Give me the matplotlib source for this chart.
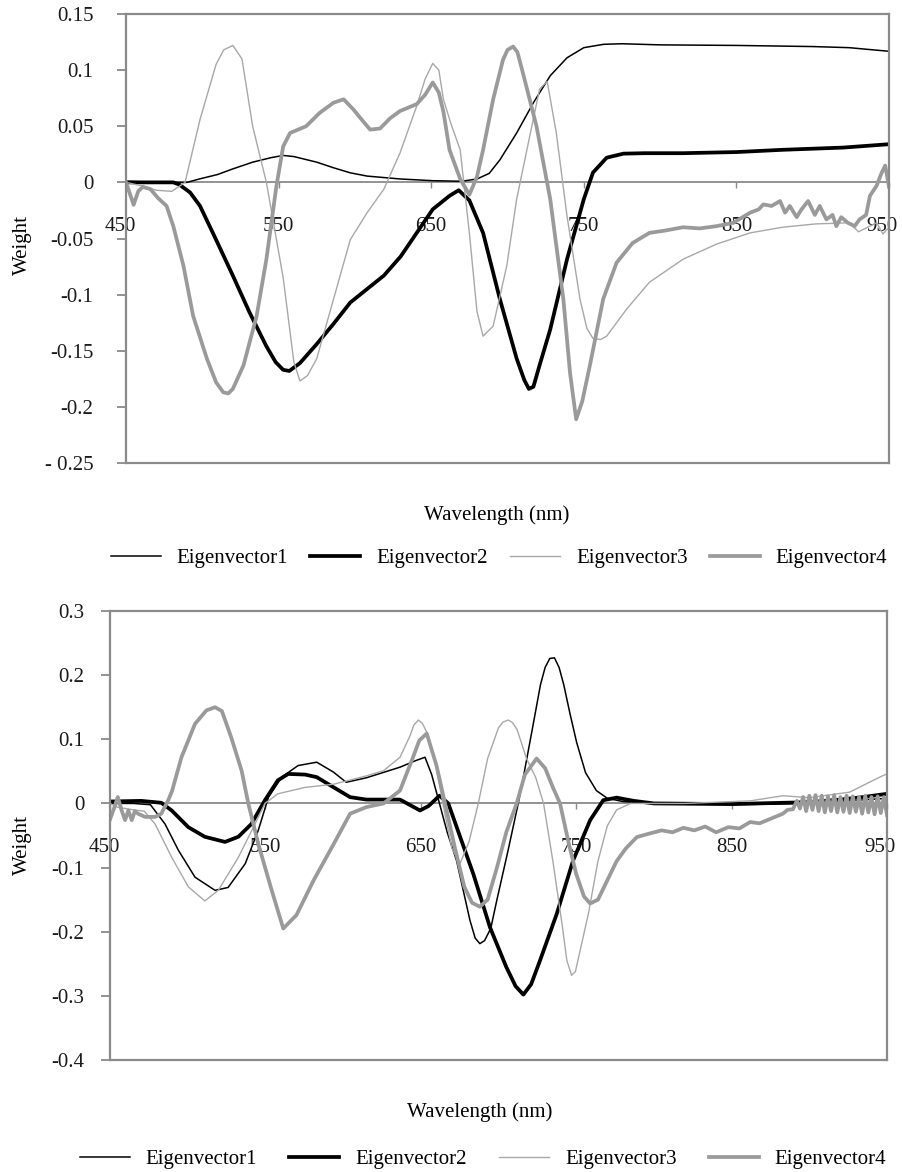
import matplotlib
matplotlib.use("Agg")
import matplotlib.pyplot as plt
from matplotlib.lines import Line2D
from matplotlib.transforms import ScaledTranslation

plt.rcParams['font.family'] = ['Liberation Serif', 'DejaVu Serif']
plt.rcParams['font.size'] = 15

series_names = ['Eigenvector1', 'Eigenvector2', 'Eigenvector3', 'Eigenvector4']
x_ticks = [450, 550, 650, 750, 850, 950]
x_tick_labels = ['450', '550', '650', '750', '850', '950']

top_y_ticks = [0.15, 0.1, 0.05, 0, -0.05, -0.1, -0.15, -0.2, -0.25]
top_y_labels = ['0.15', '0.1', '0.05', '0', '-0.05', '-0.1', '-0.15', '-0.2', '- 0.25']
bot_y_ticks = [0.3, 0.2, 0.1, 0, -0.1, -0.2, -0.3, -0.4]
bot_y_labels = ['0.3', '0.2', '0.1', '0', '-0.1', '-0.2', '-0.3', '-0.4']

# ---- upper panel ----
top_wl1 = [450, 470, 490, 498, 510, 520, 533, 545, 553, 560, 575, 586, 597, 608, 630, 651,
           670, 680, 688, 695, 706, 717, 728, 739, 750, 763, 775, 800, 850, 900, 924, 940, 950]
top_ev1 = [0.001, 0.0, 0.0, 0.003, 0.007, 0.012, 0.018, 0.022, 0.024, 0.023, 0.018, 0.013,
           0.0085, 0.0056, 0.003, 0.0015, 0.001, 0.003, 0.008, 0.020, 0.044, 0.071, 0.095,
           0.111, 0.120, 0.123, 0.1235, 0.1225, 0.122, 0.121, 0.120, 0.118, 0.1168]

top_wl2 = [450, 470, 481, 485, 492, 498.5, 509, 520, 531, 542, 548, 553, 557, 564, 575, 586,
           597, 608, 619, 630, 640.5, 651, 662, 668, 675, 684, 695, 706, 711, 714, 717, 721,
           728, 739, 750, 756, 765, 776, 790, 815, 850, 880, 920, 950]
top_ev2 = [0.0, 0.0, 0.0, -0.002, -0.009, -0.021, -0.051, -0.083, -0.116, -0.146, -0.160,
           -0.167, -0.168, -0.161, -0.144, -0.126, -0.107, -0.095, -0.083, -0.066, -0.045,
           -0.024, -0.012, -0.007, -0.016, -0.045, -0.104, -0.157, -0.176, -0.184, -0.182,
           -0.163, -0.131, -0.0685, -0.015, 0.0087, 0.022, 0.0256, 0.026, 0.026, 0.027, 0.029,
           0.031, 0.034]

top_wl3 = [450, 460, 470, 480, 488.7, 498.5, 509, 514, 520, 526, 533, 542, 553, 560, 564, 569,
           575, 586, 597, 608, 619, 629.5, 640.5, 646, 651, 655, 658, 663, 669, 675, 680, 684,
           690.6, 699.5, 706, 715, 721, 726, 732, 739, 747.5, 752, 756, 761, 765, 778, 793,
           815, 837, 859, 880, 902, 924, 930, 936, 942, 946, 950]
top_ev3 = [0.0, -0.003, -0.007, -0.008, 0.0, 0.056, 0.105, 0.118, 0.122, 0.110, 0.050, 0.0,
           -0.085, -0.160, -0.177, -0.172, -0.157, -0.104, -0.051, -0.027, -0.006, 0.026,
           0.068, 0.092, 0.106, 0.100, 0.074, 0.052, 0.029, -0.045, -0.115, -0.137, -0.128,
           -0.0745, -0.015, 0.044, 0.083, 0.090, 0.044, -0.030, -0.104, -0.130, -0.139,
           -0.140, -0.137, -0.113, -0.089, -0.0685, -0.055, -0.045, -0.040, -0.037, -0.036,
           -0.044, -0.040, -0.036, -0.046, -0.040]

top_wl4 = [450, 453, 455, 458, 461, 466, 471, 476.6, 481, 487.6, 494, 503, 509, 513.7, 517,
           520, 527, 535.6, 542, 548.6, 553, 557.5, 568, 577, 586, 592.6, 599, 605, 610, 616.5,
           623, 629.5, 640.5, 646, 651, 655, 658, 662, 669, 675, 680, 684, 690.6, 697, 700,
           703.7, 706.5, 710, 719, 728, 736.6, 741, 745, 749, 754, 762.7, 771.5, 782, 793, 803,
           815, 826, 837, 848, 859, 864.7, 867.6, 873, 878.6, 881.9, 885, 889.5, 892.7, 897,
           901.4, 904.6, 909, 913, 915.5, 918.7, 923, 927.5, 930.7, 935, 937.5, 941.9, 945.2,
           947.5, 950]
top_ev4 = [0.0, -0.012, -0.02, -0.008, -0.004, -0.006, -0.014, -0.021, -0.039, -0.074, -0.119,
           -0.157, -0.178, -0.187, -0.188, -0.184, -0.163, -0.119, -0.0685, -0.003, 0.032,
           0.044, 0.050, 0.062, 0.071, 0.074, 0.065, 0.055, 0.047, 0.048, 0.057, 0.0635,
           0.0697, 0.078, 0.089, 0.080, 0.063, 0.029, 0.003, -0.011, 0.005, 0.029, 0.074,
           0.109, 0.118, 0.121, 0.116, 0.098, 0.050, -0.015, -0.104, -0.170, -0.211, -0.195,
           -0.163, -0.104, -0.0715, -0.054, -0.045, -0.043, -0.040, -0.041, -0.039, -0.036,
           -0.027, -0.024, -0.0196, -0.021, -0.0166, -0.027, -0.021, -0.031, -0.024, -0.0166,
           -0.029, -0.021, -0.033, -0.029, -0.039, -0.031, -0.036, -0.039, -0.033, -0.029,
           -0.012, -0.003, 0.0086, 0.015, -0.004]

# ---- lower panel ----
bot_wl1 = [450, 465, 476, 485.4, 494, 504.7, 517.6, 526, 537, 545.4, 552, 560.5, 571, 583,
           593.7, 602, 615, 636.6, 647, 652.7, 657, 662, 667, 673, 681.6, 685, 688, 691, 695,
           699, 706, 712.7, 716, 722, 727, 730, 733, 736, 739, 742, 746, 750.3, 756, 763, 770,
           780, 800, 850, 900, 950]
bot_ev1 = [0.0, 0.0, -0.002, -0.032, -0.073, -0.115, -0.1355, -0.131, -0.094, -0.042, 0.0098,
           0.041, 0.059, 0.0643, 0.049, 0.033, 0.040, 0.0565, 0.067, 0.072, 0.045, 0.0, -0.045,
           -0.089, -0.182, -0.210, -0.2186, -0.214, -0.195, -0.15, -0.075, 0.0, 0.041, 0.119,
           0.185, 0.212, 0.226, 0.227, 0.212, 0.185, 0.14, 0.095, 0.048, 0.020, 0.008, 0.003,
           0.0, -0.002, 0.0, 0.008]

bot_wl2 = [450, 470, 483, 489.7, 500.4, 511, 524, 532.6, 541, 549.7, 558, 564.7, 575.5, 583,
           594, 604.5, 615, 636.6, 649.5, 655, 662, 667.7, 675, 683.8, 694.5, 705, 711, 716,
           721, 726.7, 737.5, 748, 759, 767.4, 776, 787, 800, 850, 900, 920, 935, 950]
bot_ev2 = [0.003, 0.004, 0.001, -0.011, -0.037, -0.052, -0.060, -0.052, -0.032, 0.005, 0.036,
           0.046, 0.045, 0.041, 0.025, 0.0098, 0.006, 0.006, -0.011, -0.004, 0.012, 0.0, -0.05,
           -0.110, -0.193, -0.255, -0.285, -0.298, -0.282, -0.245, -0.172, -0.089, -0.026,
           0.005, 0.009, 0.004, 0.0, -0.001, 0.002, 0.006, 0.010, 0.015]

bot_wl3 = [450, 455, 465, 472, 479, 489.7, 500.4, 511, 519.7, 532.6, 543.3, 549.7, 558, 575.5,
           594, 615, 626, 636.6, 643, 645.5, 648.4, 651, 655, 660, 665, 670, 675.2, 681, 687,
           693, 700, 703, 706.3, 709, 712, 718, 724, 729, 735, 741, 744, 747, 749.5, 752, 758,
           764, 770, 776, 785, 820, 862, 883, 900, 926, 937, 947.6, 950]
bot_ev3 = [0.0, -0.006, -0.010, -0.012, -0.032, -0.084, -0.130, -0.152, -0.1355, -0.084,
           -0.032, 0.0, 0.015, 0.025, 0.030, 0.043, 0.051, 0.072, 0.105, 0.122, 0.130, 0.125,
           0.105, 0.055, -0.01, -0.07, -0.094, -0.06, 0.0, 0.07, 0.118, 0.127, 0.130, 0.126,
           0.115, 0.07, 0.04, 0.0, -0.09, -0.19, -0.245, -0.268, -0.262, -0.235, -0.17, -0.09,
           -0.035, -0.01, 0.0, 0.0, 0.004, 0.012, 0.009, 0.0176, 0.031, 0.0436, 0.046]

bot_wl4 = [450, 453, 455, 457.5, 459.7, 461.8, 464, 466, 468, 472.5, 479, 483, 487.5, 490, 496,
           504.7, 512, 517.6, 522, 528, 534.7, 539, 545.4, 554, 561.5, 570, 581, 594, 604.5,
           615, 626, 636.6, 645, 649, 653.8, 660, 665.6, 672, 678, 683, 688, 693, 699, 705,
           711.7, 717, 724.5, 730, 735, 739.6, 745, 750, 755, 759, 764, 770, 776, 782, 789,
           797, 805, 812, 819, 826, 833, 840, 848, 855, 862, 868, 875, 883, 886, 889.5, 892,
           894, 896, 898, 900, 902, 904, 906, 908, 910, 912, 914, 916, 918, 920, 922, 924,
           926, 928, 930, 932, 934, 936, 938, 940, 942, 944, 946, 948, 950]
bot_ev4 = [-0.025, -0.005, 0.010, -0.011, -0.026, -0.011, -0.026, -0.012, -0.016, -0.021,
           -0.021, -0.016, 0.005, 0.02, 0.072, 0.124, 0.145, 0.150, 0.144, 0.103, 0.051, 0.0,
           -0.063, -0.135, -0.195, -0.174, -0.12, -0.063, -0.016, -0.0057, 0.0, 0.020, 0.072,
           0.098, 0.109, 0.06, 0.0, -0.07, -0.13, -0.155, -0.161, -0.15, -0.10, -0.045, 0.0,
           0.045, 0.070, 0.055, 0.025, 0.0, -0.06, -0.11, -0.145, -0.156, -0.150, -0.12,
           -0.090, -0.070, -0.0525, -0.047, -0.042, -0.045, -0.038, -0.042, -0.036, -0.045,
           -0.037, -0.039, -0.029, -0.031, -0.024, -0.016, -0.010, -0.009, 0.004, -0.008,
           0.010, -0.012, 0.012, -0.010, 0.013, -0.012, 0.012, -0.014, 0.011, -0.012, 0.013,
           -0.014, 0.010, -0.013, 0.012, -0.015, 0.011, -0.013, 0.010, -0.016, 0.012, -0.014,
           0.010, -0.017, 0.011, -0.015, 0.010, -0.018]

line_styles = [dict(color='black', lw=1.1),
               dict(color='black', lw=2.7),
               dict(color='#a8a8a8', lw=1.0),
               dict(color='#9a9a9a', lw=2.7)]
frame_color = '#8a8a8a'


def draw_panel(ax, curves, ylim, yticks, ylabels, ypad):
    handles = []
    for (wl, ev), style in zip(curves, line_styles):
        h, = ax.plot(wl, ev, solid_joinstyle='round', **style)
        handles.append(h)
    ax.set_xlim(450, 950)
    ax.set_ylim(*ylim)
    for side in ['left', 'right', 'top']:
        ax.spines[side].set_color(frame_color)
        ax.spines[side].set_linewidth(1.6)
    # category axis crosses at zero, box closed along the bottom
    ax.spines['bottom'].set_position(('data', 0))
    ax.spines['bottom'].set_color(frame_color)
    ax.spines['bottom'].set_linewidth(1.3)
    ax.spines['bottom'].set_zorder(1.5)
    ax.add_line(Line2D([0, 1], [0, 0], transform=ax.transAxes, color=frame_color,
                       lw=1.6, clip_on=False))
    ax.set_xticks(x_ticks, x_tick_labels)
    ax.set_yticks(yticks, ylabels)
    ax.tick_params(axis='x', direction='out', length=4, width=1, color=frame_color,
                   pad=21, labelsize=15, labelcolor='#1a1a1a')
    ax.tick_params(axis='y', direction='out', length=6.5, width=1.3, color=frame_color,
                   pad=ypad, labelsize=15, labelcolor='#1a1a1a')
    # end labels sit slightly inward of their ticks
    labels = ax.get_xticklabels()
    labels[0].set_transform(labels[0].get_transform() +
                            ScaledTranslation(-4 / 72, 0, ax.figure.dpi_scale_trans))
    labels[-1].set_transform(labels[-1].get_transform() +
                             ScaledTranslation(-5 / 72, 0, ax.figure.dpi_scale_trans))
    return handles


fig = plt.figure(figsize=(9.02, 11.72), dpi=100)
W, H = 902, 1172

ax1 = fig.add_axes([126 / W, 1 - 463 / H, 763 / W, 449 / H])
h1 = draw_panel(ax1, [(top_wl1, top_ev1), (top_wl2, top_ev2), (top_wl3, top_ev3),
                      (top_wl4, top_ev4)],
                (-0.25, 0.15), top_y_ticks, top_y_labels, 17)

ax2 = fig.add_axes([110 / W, 1 - 1060 / H, 777 / W, 449 / H])
h2 = draw_panel(ax2, [(bot_wl1, bot_ev1), (bot_wl2, bot_ev2), (bot_wl3, bot_ev3),
                      (bot_wl4, bot_ev4)],
                (-0.4, 0.3), bot_y_ticks, bot_y_labels, 12)

fig.text(22 / W, 1 - 245 / H, 'Weight', rotation=90, ha='center', va='center', fontsize=15)
fig.text(22 / W, 1 - 845 / H, 'Weight', rotation=90, ha='center', va='center', fontsize=15)
fig.text(497 / W, 1 - 515 / H, 'Wavelength (nm)', ha='center', va='center', fontsize=15)
fig.text(480 / W, 1 - 1112 / H, 'Wavelength (nm)', ha='center', va='center', fontsize=15)

fig.legend(h1, series_names, loc='center', bbox_to_anchor=(499 / W, 1 - 558 / H), ncol=4,
           frameon=False, fontsize=15, handlelength=2.4, handletextpad=0.77,
           columnspacing=1.06, borderpad=0, borderaxespad=0)
fig.legend(h2, series_names, loc='center', bbox_to_anchor=(483 / W, 1 - 1159 / H), ncol=4,
           frameon=False, fontsize=15, handlelength=2.4, handletextpad=0.77,
           columnspacing=1.54, borderpad=0, borderaxespad=0)

fig.savefig('out.png', dpi=100)
